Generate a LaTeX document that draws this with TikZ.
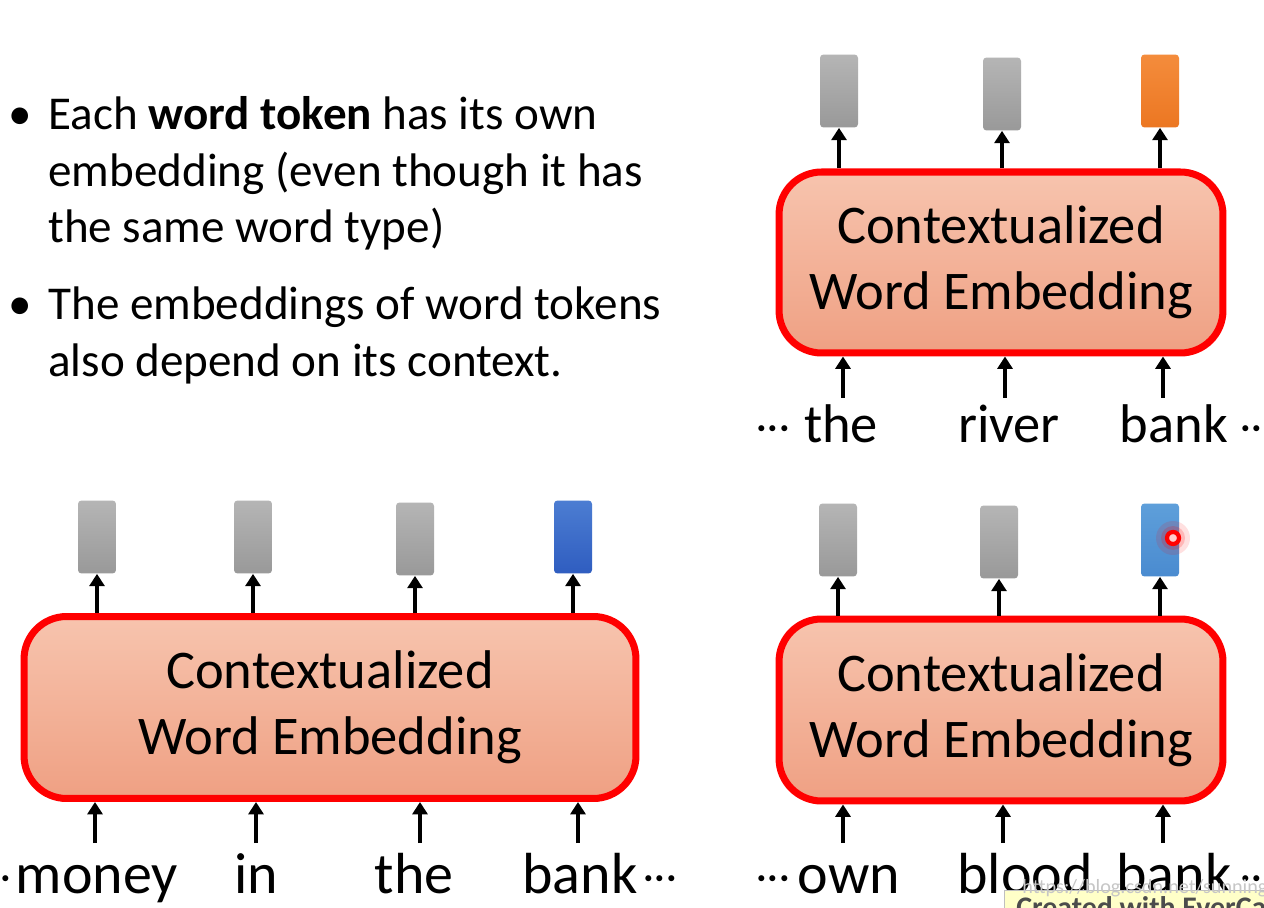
\documentclass[tikz,border=0pt]{standalone}
\usepackage{fontspec}
\setmainfont{Carlito}
\usetikzlibrary{arrows.meta}
\definecolor{boxred}{HTML}{FF0000}
\definecolor{salmontop}{HTML}{F7C4AE}
\definecolor{salmonbot}{HTML}{EFA083}
\definecolor{graytop}{HTML}{B5B5B5}
\definecolor{graybot}{HTML}{999999}
\definecolor{orangetop}{HTML}{F48C3C}
\definecolor{orangebot}{HTML}{EC7722}
\definecolor{bluetop}{HTML}{4C7DD2}
\definecolor{bluebot}{HTML}{2F5DC0}
\definecolor{lbluetop}{HTML}{5E9FDA}
\definecolor{lbluebot}{HTML}{4A8BD0}
\definecolor{tipyellow}{HTML}{FFFFC8}
\newcommand\mydots{\raisebox{1.5pt}{\fontsize{24pt}{24pt}\selectfont\textperiodcentered\kern0.5pt\textperiodcentered\kern0.5pt\textperiodcentered}}
\tikzset{
  cwe/.style={draw=boxred, line width=4pt, rounded corners=0.85cm,
    top color=salmontop, bottom color=salmonbot, align=center,
    font=\fontsize{31pt}{37.4pt}\selectfont, minimum width=8.88cm, minimum height=3.62cm},
  vec/.style={rounded corners=2pt, minimum width=0.76cm, minimum height=1.46cm, inner sep=0pt},
  grayvec/.style={vec, top color=graytop, bottom color=graybot},
  arr/.style={line width=2.3pt, -{Triangle[width=8.5pt,length=7pt]}},
  word/.style={anchor=base, inner sep=0pt, font=\fontsize{31pt}{36pt}\selectfont},
  bword/.style={anchor=base, inner sep=0pt, font=\fontsize{33pt}{38pt}\selectfont},
  bul/.style={anchor=base west, inner sep=0pt, font=\fontsize{26.8pt}{32pt}\selectfont},
}
\begin{document}
\begin{tikzpicture}[x=0.02cm,y=-0.02cm]
\useasboundingbox (0,0) rectangle (1264,908);
\clip (0,0) rectangle (1264,908);
\fill[white] (0,0) rectangle (1264,908);

% bullets
\node[bul] (b1) at (8,130) {•};
\node[bul] (l1) at (48,130) {Each \textbf{word token} has its own};
\node[bul] (l2) at (48,187) {embedding (even though it has};
\node[bul] (l3) at (48,243) {the same word type)};
\node[bul] (b2) at (8,320) {•};
\node[bul] (l4) at (48,320) {The embeddings of word tokens};
\node[bul] (l5) at (48,377) {also depend on its context.};

% ---------- top right ----------
\node[cwe] (B1) at (1001,262.5) {Contextualized\\Word Embedding};
\node[grayvec] (r11) at (839,91) {};
\node[grayvec] (r12) at (1002,94) {};
\node[vec, top color=orangetop, bottom color=orangebot] (r13) at (1160,91) {};
\foreach \r in {r11,r12,r13} \draw[arr] (B1.north -| \r.south) -- (\r.south);
\coordinate (i11) at (843,398);
\coordinate (i12) at (1005,398);
\coordinate (i13) at (1163,398);
\foreach \i in {i11,i12,i13} \draw[arr] (\i) -- (\i |- B1.south);
\node[word] (d11) at (773,443) {\mydots};
\node[word] (w11) at (841,443) {the};
\node[word] (w12) at (1009,443) {river};
\node[word] (w13) at (1174,443) {bank};
\node[word] (d12) at (1257,443) {\mydots};

% ---------- bottom left ----------
\node[cwe, minimum width=12.24cm, minimum height=3.64cm] (B2) at (330,707.5) {Contextualized\\Word Embedding};
\node[grayvec] (r21) at (97,537) {};
\node[grayvec] (r22) at (253,537) {};
\node[grayvec] (r23) at (415,539) {};
\node[vec, top color=bluetop, bottom color=bluebot] (r24) at (573,537) {};
\foreach \r in {r21,r22,r23,r24} \draw[arr] (B2.north -| \r.south) -- (\r.south);
\coordinate (i21) at (95,843);
\coordinate (i22) at (256,843);
\coordinate (i23) at (420,843);
\coordinate (i24) at (578,843);
\foreach \i in {i21,i22,i23,i24} \draw[arr] (\i) -- (\i |- B2.south);
\node[bword] (d21) at (-6,893) {\mydots};
\node[bword] (w21) at (97,893) {money};
\node[bword] (w22) at (256,893) {in};
\node[bword] (w23) at (414,893) {the};
\node[bword] (w24) at (580,893) {bank};
\node[bword] (d22) at (660,893) {\mydots};

% ---------- bottom right ----------
\node[cwe, minimum height=3.64cm] (B3) at (1001,710) {Contextualized\\Word Embedding};
\node[grayvec] (r31) at (838,540) {};
\node[grayvec] (r32) at (999,542) {};
\node[vec, top color=lbluetop, bottom color=lbluebot] (r33) at (1160,540) {};
\foreach \r in {r31,r32,r33} \draw[arr] (B3.north -| \r.south) -- (\r.south);
\coordinate (i31) at (843,843);
\coordinate (i32) at (1003,843);
\coordinate (i33) at (1163,843);
\foreach \i in {i31,i32,i33} \draw[arr] (\i) -- (\i |- B3.south);
\node[bword] (d31) at (773,893) {\mydots};
\node[bword] (w31) at (849,893) {own};
\node[bword] (w32) at (1025,893) {blood};
\node[bword] (w33) at (1174,893) {bank};
\node[bword] (d32) at (1257,893) {\mydots};

% pointer dot
\fill[red, opacity=0.12] (1173,538) circle (17);
\fill[red, opacity=0.18] (1173,538) circle (12);
\draw[red, line width=2.4pt, fill=white!80!red] (1173,538) circle (6);

% overlay (recording watermark)
\fill[tipyellow, draw=black!25] (1004,890) rectangle (1270,915);
\node[anchor=base west, inner sep=0pt, font=\fontsize{17pt}{20pt}\selectfont\bfseries, text=black!70] (cw) at (1016,917) {Created with EverCam};
\node[anchor=base west, inner sep=0pt, font=\fontsize{11.5pt}{14pt}\selectfont, text=gray!45] (url) at (1022,893) {https://blog.csdn.net/sunningzizn};
\end{tikzpicture}
\end{document}
